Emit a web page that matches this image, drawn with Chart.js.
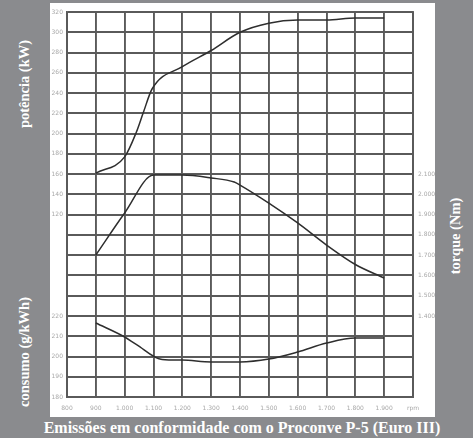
<!DOCTYPE html>
<html>
<head>
<meta charset="utf-8">
<script src="https://cdn.jsdelivr.net/npm/chart.js@4/dist/chart.umd.min.js"></script>
<style>
  body { margin: 0; width: 473px; height: 438px; background: #8a8b8e; position: relative; overflow: hidden; }
  #panel { position: absolute; left: 50px; top: 3px; width: 385px; height: 414px; background: #fff; }
  .lbl { position: absolute; color: #fff; font: bold 14.5px "Liberation Serif", "DejaVu Serif", serif; white-space: nowrap; }
  .rot { transform: translate(-50%, -50%) rotate(-90deg); }
</style>
</head>
<body>
<div id="panel"><canvas id="chart" width="385" height="414"></canvas></div>
<div class="lbl rot" style="left:24px; top:84px;">potência (kW)</div>
<div class="lbl rot" style="left:24px; top:352px;">consumo (g/kWh)</div>
<div class="lbl rot" style="left:455px; top:236px;">torque (Nm)</div>
<div class="lbl" style="left:242px; top:428px; font-size:16px; transform: translate(-50%, -50%);">Emissões em conformidade com o Proconve P-5 (Euro III)</div>
<script>
// rotação (rpm)
const rpmPower = [900, 1000, 1040, 1065, 1095, 1200, 1300, 1400, 1500, 1600, 1700, 1800, 1900];
const power = [161, 177, 201, 221, 244, 266, 282, 300, 309, 312, 312, 314, 314];

const rpmTorque = [900, 1000, 1100, 1200, 1300, 1380, 1400, 1500, 1600, 1700, 1800, 1900];
const torque = [1701, 1908, 2095, 2095, 2081, 2061, 2046, 1957, 1859, 1750, 1654, 1587];

const rpmCons = [900, 1000, 1040, 1130, 1200, 1300, 1400, 1500, 1600, 1700, 1800, 1900];
const consumo = [216.5, 209.6, 206, 198.5, 198.2, 197.3, 197.3, 198.7, 202.2, 206.6, 209.1, 209.1];

// tick labels
const powerTicks = [320, 300, 280, 260, 240, 220, 200, 180, 160, 140, 120];
const consTicks = [220, 210, 200, 190, 180];
const torqueTicks = [2100, 2000, 1900, 1800, 1700, 1600, 1500, 1400];

function fmt(v) {
    return v >= 1000 ? Math.floor(v / 1000) + '.' + String(v % 1000).padStart(3, '0') : String(v);
}

function pts(xs, ys) {
    return xs.map((x, i) => ({ x: x, y: ys[i] }));
}

const tickFont = { size: 6, family: 'DejaVu Sans' };
const tickColor = '#a8a8a8';
const gridColor = '#5a5a5a';
const lineColor = '#2e2e2e';

const lineStyle = {
    borderColor: lineColor,
    borderWidth: 1.5,
    pointRadius: 0,
    fill: false,
    cubicInterpolationMode: 'monotone'
};

new Chart(document.getElementById('chart'), {
    type: 'line',
    data: {
        datasets: [
            Object.assign({ label: 'potência', data: pts(rpmPower, power), yAxisID: 'y' }, lineStyle),
            Object.assign({ label: 'torque', data: pts(rpmTorque, torque), yAxisID: 'yt' }, lineStyle),
            Object.assign({ label: 'consumo', data: pts(rpmCons, consumo), yAxisID: 'yc' }, lineStyle)
        ]
    },
    options: {
        responsive: false,
        animation: false,
        layout: { padding: { top: 9, left: 0, right: 0, bottom: 0 } },
        plugins: { legend: { display: false }, tooltip: { enabled: false } },
        scales: {
            x: {
                type: 'linear',
                min: 800, max: 2000,
                afterFit: s => { s.height = 20; },
                grid: { color: gridColor, lineWidth: 1.9, drawTicks: false },
                border: { color: gridColor, width: 1.9 },
                ticks: {
                    stepSize: 100, padding: 8, font: tickFont, color: tickColor, maxRotation: 0, autoSkip: false,
                    callback: v => v === 2000 ? 'rpm' : fmt(v)
                }
            },
            y: {
                position: 'left',
                min: -60, max: 320,
                afterFit: s => { s.width = 17; },
                grid: { color: gridColor, lineWidth: 1.9, drawTicks: false },
                border: { color: gridColor, width: 1.9 },
                ticks: {
                    stepSize: 20, padding: 4, font: tickFont, color: tickColor, autoSkip: false,
                    callback: v => {
                        if (powerTicks.includes(v)) return String(v);
                        const c = 220 + (v - 20) / 2;
                        return consTicks.includes(c) ? String(c) : '';
                    }
                }
            },
            yt: {
                position: 'right',
                min: 1000, max: 2900,
                afterFit: s => { s.width = 22; },
                grid: { display: false, drawTicks: false },
                border: { color: gridColor, width: 1.9 },
                ticks: {
                    stepSize: 100, padding: 5, font: tickFont, color: tickColor, autoSkip: false,
                    callback: v => torqueTicks.includes(v) ? fmt(v) : ''
                }
            },
            yc: {
                display: false,
                min: 180, max: 370
            }
        }
    }
});
</script>
</body>
</html>
